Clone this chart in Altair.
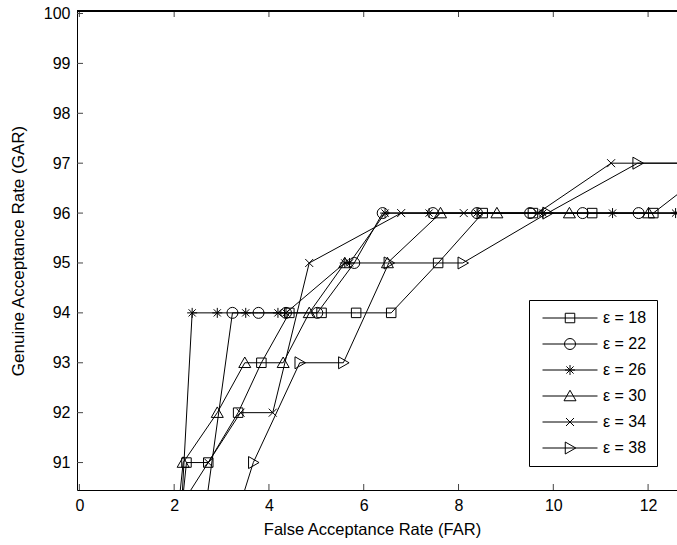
import altair as alt
import pandas as pd

labels = ["ε = 18", "ε = 22", "ε = 26", "ε = 30", "ε = 34", "ε = 38"]

far_18 = [2.15, 2.26, 2.72, 3.35, 3.84, 4.43, 5.11, 5.84, 6.58, 7.57, 8.51, 9.57, 10.82, 12.11, 13.47]
gar_18 = [90, 91, 91, 92, 93, 94, 94, 94, 94, 95, 96, 96, 96, 96, 97]

far_22 = [2.65, 3.23, 3.78, 4.36, 5.02, 5.80, 6.40, 7.46, 8.39, 9.51, 10.62, 11.80, 13.20]
gar_22 = [90, 94, 94, 94, 94, 95, 96, 96, 96, 96, 96, 96, 96]

far_26 = [2.15, 2.38, 2.91, 3.51, 4.19, 4.36, 5.60, 5.70, 6.45, 7.38, 8.39, 9.78, 11.25, 12.58, 13.50]
gar_26 = [90, 94, 94, 94, 94, 94, 95, 95, 96, 96, 96, 96, 96, 96, 96]

far_30 = [2.08, 2.19, 2.91, 3.49, 4.30, 4.85, 5.60, 6.50, 7.62, 8.81, 10.34, 12.01, 13.30]
gar_30 = [90, 91, 92, 93, 93, 94, 95, 95, 96, 96, 96, 96, 96]

far_34 = [2.05, 2.72, 3.40, 4.08, 4.85, 6.79, 8.11, 9.67, 11.22, 13.50]
gar_34 = [90, 91, 92, 92, 95, 96, 96, 96, 97, 97]

far_38 = [3.34, 3.67, 4.65, 5.57, 6.53, 8.09, 9.88, 11.78, 13.50]
gar_38 = [90, 91, 93, 93, 95, 95, 96, 97, 97]

x_ticks = [0, 2, 4, 6, 8, 10, 12]
y_ticks = [91, 92, 93, 94, 95, 96, 97, 98, 99, 100]

series = [far_18, far_22, far_26, far_30, far_34, far_38]
levels = [gar_18, gar_22, gar_26, gar_30, gar_34, gar_38]

rows = []
for lab, xs, ys in zip(labels, series, levels):
    for i, (xv, yv) in enumerate(zip(xs, ys)):
        rows.append({"eps": lab, "far": xv, "gar": yv, "order": i})
df = pd.DataFrame(rows)

# marker outlines (unit box, scaled by size)
square = "M-0.95,-0.95H0.95V0.95H-0.95Z"
circle = "M-1.1,0A1.1,1.1,0,1,1,1.1,0A1.1,1.1,0,1,1,-1.1,0Z"
aster = "M0,-1V1M-1,0H1M-0.72,-0.72L0.72,0.72M-0.72,0.72L0.72,-0.72"
tri_up = "M0,-1.15L1.2,0.95L-1.2,0.95Z"
xmark = "M-0.8,-0.8L0.8,0.8M-0.8,0.8L0.8,-0.8"
tri_right = "M1.15,0L-0.95,-1.2L-0.95,1.2Z"
shapes = [square, circle, aster, tri_up, xmark, tri_right]
legend_shapes = ["M-5.5,0H5.5" + s for s in shapes]

FONT = "Liberation Sans"
W, H = 600, 479
xscale = alt.Scale(domain=[-0.05, 12.61], nice=False, zero=False)
yscale = alt.Scale(domain=[90.45, 100.05], nice=False, zero=False)

base = alt.Chart(df)

lines = base.mark_line(color="black", strokeWidth=1, clip=True).encode(
    x=alt.X("far:Q", scale=xscale, axis=alt.Axis(
        values=x_ticks, title="False Acceptance Rate (FAR)", grid=False,
        ticks=False, tickSize=0, labelPadding=7, labelFontSize=16, labelFont=FONT,
        labelColor="black", domainColor="black", domainWidth=1,
        titleFont=FONT, titleFontSize=16.5, titleFontWeight="normal", titleColor="black",
        titleBaseline="alphabetic", titleY=44, titleX=295)),
    y=alt.Y("gar:Q", scale=yscale, axis=alt.Axis(
        values=y_ticks, title="Genuine Acceptance Rate (GAR)", grid=False,
        ticks=False, tickSize=0, labelPadding=7, labelFontSize=16, labelFont=FONT,
        labelColor="black", domainColor="black", domainWidth=1,
        titleFont=FONT, titleFontSize=17, titleFontWeight="normal", titleColor="black",
        titleBaseline="alphabetic", titleX=-54)),
    detail="eps:N",
    order="order:Q",
)

point_layers = []
for lab, shp in zip(labels, shapes):
    point_layers.append(
        base.transform_filter(alt.datum.eps == lab).mark_point(
            shape=shp, size=100, filled=False, color="black", strokeWidth=1,
            opacity=1, clip=True).encode(x="far:Q", y="gar:Q")
    )

legend_layer = base.mark_point(filled=False, color="black", strokeWidth=1, clip=True).encode(
    x="far:Q", y="gar:Q",
    shape=alt.Shape("eps:N", scale=alt.Scale(domain=labels, range=legend_shapes),
                    legend=alt.Legend(title=None, orient="none", legendX=452, legendY=289,
                                      strokeColor="black", fillColor="white", padding=10,
                                      symbolSize=100, symbolStrokeWidth=1,
                                      symbolStrokeColor="black", symbolFillColor="transparent",
                                      symbolOpacity=1, symbolOffset=23,
                                      labelFont=FONT, labelFontSize=16, labelColor="black",
                                      labelOffset=25, rowPadding=10, cornerRadius=0)),
    opacity=alt.value(0),
)

tick_df = pd.DataFrame({"v": x_ticks})
ytick_df = pd.DataFrame({"v": y_ticks})
xt_bottom = alt.Chart(tick_df).mark_rule(color="#444", strokeWidth=1).encode(
    x=alt.X("v:Q", scale=xscale), y=alt.value(H), y2=alt.value(H - 6))
xt_top = alt.Chart(tick_df).mark_rule(color="#444", strokeWidth=1).encode(
    x=alt.X("v:Q", scale=xscale), y=alt.value(0), y2=alt.value(6))
yt_left = alt.Chart(ytick_df).mark_rule(color="#444", strokeWidth=1).encode(
    y=alt.Y("v:Q", scale=yscale), x=alt.value(0), x2=alt.value(6))
top_border = alt.Chart(tick_df).mark_rule(color="black", strokeWidth=1).encode(
    x=alt.value(0), x2=alt.value(W), y=alt.value(0))

chart = alt.layer(lines, *point_layers, legend_layer, xt_bottom, xt_top, yt_left, top_border).properties(
    width=W, height=H,
    autosize=alt.AutoSizeParams(type="none"),
    padding={"left": 77, "top": 11, "right": 0, "bottom": 55},
    background="white",
).configure_view(stroke=None)

chart.save("out.html", embed_options={"renderer": "svg", "actions": False})
